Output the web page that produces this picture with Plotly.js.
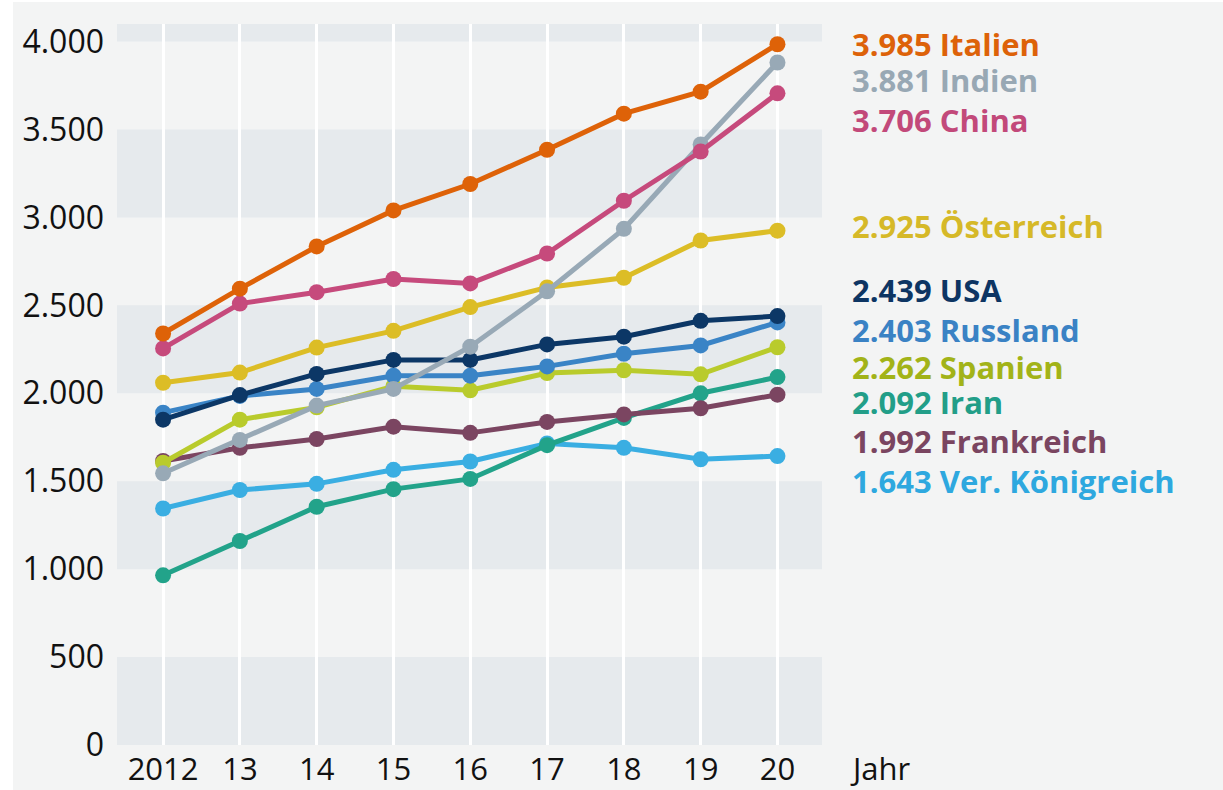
<!DOCTYPE html>
<html>
<head>
<meta charset="utf-8">
<script src="https://cdn.plot.ly/plotly-3.0.1.min.js"></script>
<style>
  html, body { margin: 0; padding: 0; background: #ffffff; }
  #chart { position: absolute; left: 13px; top: 2px; width: 1210px; height: 788px; }
</style>
</head>
<body>
<div id="chart"></div>
<script>
// ---- data ----
const years = [2012, 2013, 2014, 2015, 2016, 2017, 2018, 2019, 2020];
const yearLabels = ['2012', '13', '14', '15', '16', '17', '18', '19', '20'];

const italien     = [2340, 2595, 2835, 3040, 3190, 3385, 3590, 3715, 3985];
const indien      = [1545, 1735, 1930, 2025, 2265, 2580, 2935, 3415, 3881];
const china       = [2255, 2510, 2575, 2650, 2625, 2795, 3095, 3375, 3706];
const oesterreich = [2060, 2118, 2260, 2355, 2490, 2602, 2657, 2869, 2925];
const usa         = [1850, 1990, 2110, 2190, 2190, 2278, 2322, 2412, 2439];
const russland    = [1890, 1985, 2025, 2100, 2100, 2153, 2225, 2272, 2403];
const spanien     = [1605, 1850, 1920, 2040, 2017, 2115, 2131, 2108, 2262];
const iran        = [965, 1160, 1355, 1455, 1513, 1705, 1860, 2000, 2092];
const frankreich  = [1615, 1690, 1740, 1810, 1775, 1837, 1880, 1915, 1992];
const uk          = [1345, 1450, 1485, 1565, 1612, 1715, 1690, 1625, 1643];

const yTicks = [0, 500, 1000, 1500, 2000, 2500, 3000, 3500, 4000];

// ---- series definitions (drawing order bottom -> top) ----
const series = [
  { name: 'Ver. Königreich', y: uk,          line: '#3aaee2', label: '#2ea8df', labelPx: 481 },
  { name: 'Iran',            y: iran,        line: '#22a38a', label: '#229e88', labelPx: 402 },
  { name: 'Frankreich',      y: frankreich,  line: '#7b4561', label: '#7a4560', labelPx: 441 },
  { name: 'Spanien',         y: spanien,     line: '#b9cb2c', label: '#a2b318', labelPx: 367 },
  { name: 'Russland',        y: russland,    line: '#3a84c6', label: '#3a82c4', labelPx: 330 },
  { name: 'USA',             y: usa,         line: '#0c3766', label: '#0d3563', labelPx: 290 },
  { name: 'Österreich',      y: oesterreich, line: '#dcbd26', label: '#d6b928', labelPx: 226 },
  { name: 'Indien',          y: indien,      line: '#98a9b6', label: '#98a8b4', labelPx: 80 },
  { name: 'China',           y: china,       line: '#c64a7c', label: '#c2497a', labelPx: 120 },
  { name: 'Italien',         y: italien,     line: '#de6208', label: '#dd6209', labelPx: 44 }
];

const traces = series.map(s => ({
  type: 'scatter',
  mode: 'lines+markers',
  x: years,
  y: s.y,
  name: s.name,
  line: { color: s.line, width: 5 },
  marker: { color: s.line, size: 16 },
  hoverinfo: 'x+y+name'
}));

// ---- layout geometry ----
const W = 1210, H = 788;
const M = { l: 104, r: 401, t: 22, b: 45 };
const plotH = H - M.t - M.b;
const plotW = W - M.l - M.r;
const pxToPaperY = py => 1 - ((py - 2) - M.t) / plotH;
const pxToPaperX = px => ((px - 13) - M.l) / plotW;

const fmt = v => v.toString().replace(/\B(?=(\d{3})+(?!\d))/g, '.');

const annotations = series.map(s => ({
  xref: 'paper', yref: 'paper',
  x: pxToPaperX(851), y: pxToPaperY(s.labelPx),
  xanchor: 'left', yanchor: 'middle',
  text: '<b>' + fmt(s.y[s.y.length - 1]) + ' ' + s.name + '</b>',
  showarrow: false, borderpad: 0,
  font: { family: 'Open Sans, sans-serif', size: 31, color: s.label }
}));
annotations.push({
  xref: 'paper', yref: 'paper',
  x: pxToPaperX(849), y: pxToPaperY(768),
  xanchor: 'left', yanchor: 'middle',
  text: 'Jahr', showarrow: false, borderpad: 0,
  font: { family: 'Open Sans, sans-serif', size: 31, color: '#111111' }
});

// alternating horizontal bands
const bandColor = '#e6eaed';
const shapes = [];
const bandEdges = [[0, 500], [1000, 1500], [2000, 2500], [3000, 3500], [4000, 4100]];
bandEdges.forEach(b => shapes.push({
  type: 'rect', xref: 'paper', yref: 'y', x0: 0, x1: 1, y0: b[0], y1: b[1],
  fillcolor: bandColor, line: { width: 0 }, layer: 'below'
}));

const layout = {
  width: W, height: H,
  margin: M,
  paper_bgcolor: '#f3f4f4',
  plot_bgcolor: '#f3f4f4',
  separators: ',.',
  showlegend: false,
  font: { family: 'Open Sans, sans-serif', color: '#111111' },
  xaxis: {
    range: [2011.4, 2020.58],
    tickvals: years, ticktext: yearLabels,
    showgrid: true, gridcolor: '#ffffff', gridwidth: 3,
    zeroline: false, showline: false, ticks: '',
    ticklabelstandoff: 3,
    tickfont: { size: 31, color: '#111111' },
    layer: 'above traces'
  },
  yaxis: {
    range: [0, 4100],
    tickvals: yTicks,
    tickformat: ',d',
    showgrid: false, zeroline: false, showline: false, ticks: '',
    ticklabelstandoff: 12,
    tickfont: { size: 32, color: '#111111' }
  },
  shapes: shapes,
  annotations: annotations
};

Plotly.newPlot('chart', traces, layout, { displayModeBar: false, staticPlot: true });
</script>
</body>
</html>
